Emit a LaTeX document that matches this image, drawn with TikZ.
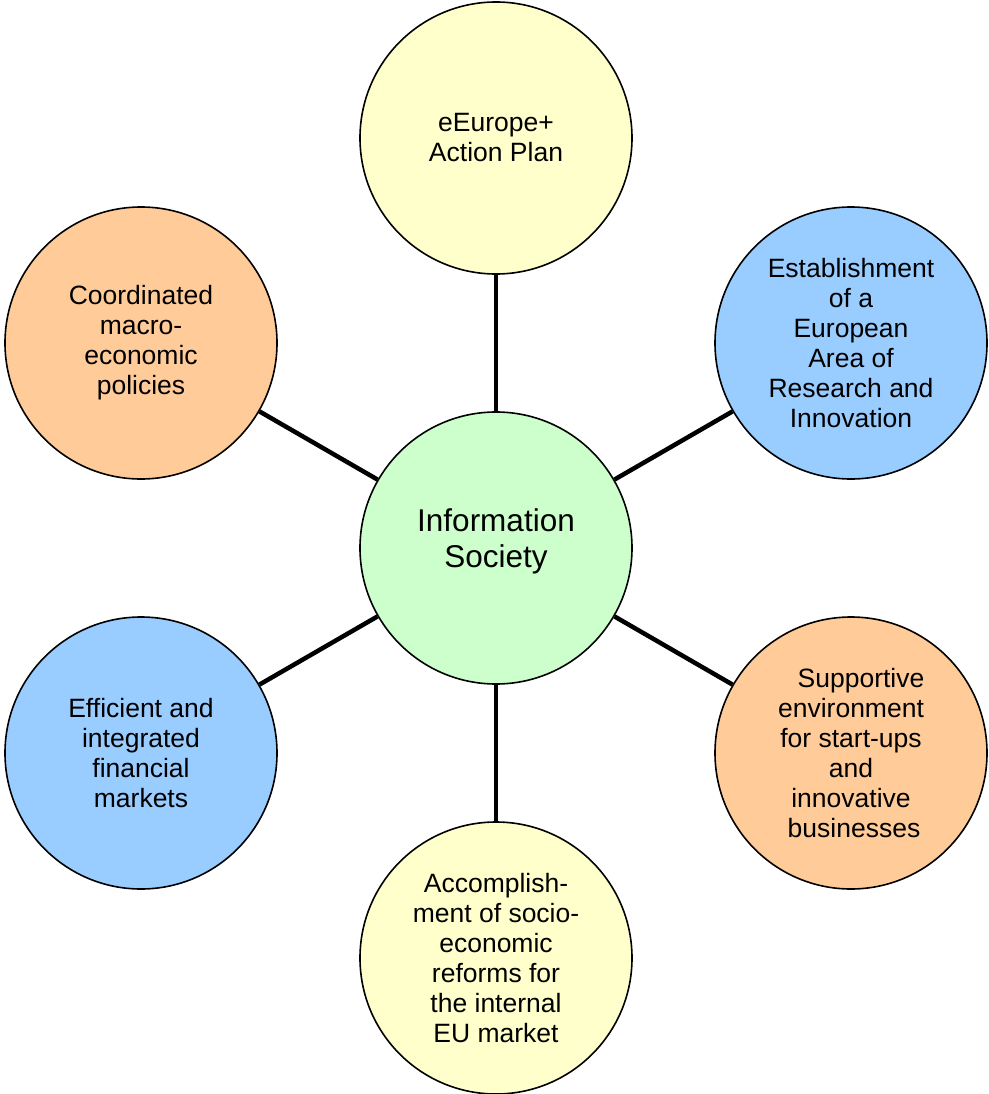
\documentclass[tikz,border=0pt]{standalone}
\usepackage{fontspec}
\setmainfont{Liberation Sans}
\definecolor{cyellow}{HTML}{FFFFCC}
\definecolor{cblue}{HTML}{99CCFF}
\definecolor{corange}{HTML}{FFCC99}
\definecolor{cgreen}{HTML}{CCFFCC}
\begin{document}
\begin{tikzpicture}[x=1pt,y=-1pt,
  bubble/.style={circle,draw=black,line width=1.6pt,minimum size=272pt,inner sep=0pt,
    align=center,font=\fontsize{26.5}{30}\selectfont},
  hub/.style={bubble,font=\fontsize{31.5}{36}\selectfont},
  link/.style={line width=4.5pt}]
\useasboundingbox (0,0) rectangle (988,1094);
\node[hub,fill=cgreen] (c) at (496,548) {};
\node[hub,draw=none,minimum size=0pt] (ct) at ([yshift=7pt]c.center) {Information\\Society};
\node[bubble,fill=cyellow] (t) at (496,138) {eEurope+\\Action Plan};
\node[bubble,fill=cblue] (rt) at (851,343) {Establishment\\of a\\European\\Area of\\Research and\\Innovation};
\node[bubble,fill=corange] (rb) at (851,753) {\hspace*{26pt}Supportive\hspace*{6pt}\\environment\hspace*{-6pt}\\for start-ups\hspace*{-6pt}\\and\hspace*{-6pt}\\innovative\hspace*{-6pt}\\businesses\hspace*{-6pt}};
\node[bubble,fill=cyellow] (b) at (496,958) {Accomplish-\\ment of socio-\\economic\\reforms for\\the internal\\EU market};
\node[bubble,fill=cblue] (lb) at (141,753) {Efficient and\\integrated\\financial\\markets};
\node[bubble,fill=corange] (lt) at (141,343) {Coordinated\\macro-\\economic\\policies};
\foreach \n in {t,rt,rb,b,lb,lt} \draw[link] (c) -- (\n);
\end{tikzpicture}
\end{document}
